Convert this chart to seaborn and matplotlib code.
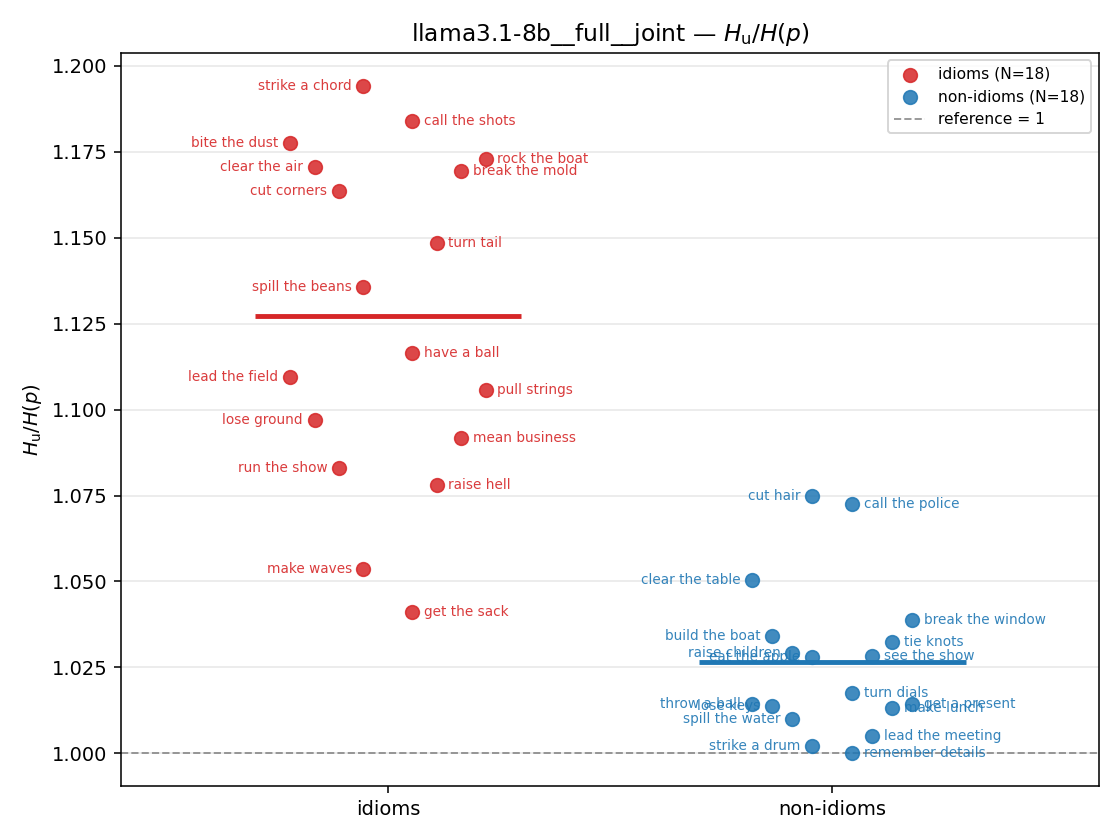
import numpy as np
import pandas as pd
import matplotlib
matplotlib.use("Agg")
import matplotlib.pyplot as plt
import seaborn as sns

# --- data ---
idiom_names = [
    "strike a chord", "call the shots", "bite the dust", "rock the boat",
    "clear the air", "break the mold", "cut corners", "turn tail",
    "spill the beans", "have a ball", "lead the field", "pull strings",
    "lose ground", "mean business", "run the show", "raise hell",
    "make waves", "get the sack",
]
idiom_vals = [
    1.1941, 1.1839, 1.1776, 1.1729, 1.1705, 1.1693, 1.1635, 1.1484,
    1.1355, 1.1165, 1.1095, 1.1057, 1.0970, 1.0917, 1.0830, 1.0780,
    1.0536, 1.0412,
]
nonidiom_names = [
    "cut hair", "call the police", "clear the table", "break the window",
    "build the boat", "tie knots", "raise children", "see the show",
    "eat the apple", "turn dials", "throw a ball", "get a present",
    "lose keys", "make lunch", "spill the water", "lead the meeting",
    "strike a drum", "remember details",
]
nonidiom_vals = [
    1.0749, 1.0725, 1.0504, 1.0388, 1.0341, 1.0323, 1.0292, 1.0284,
    1.0281, 1.0177, 1.0145, 1.0144, 1.0137, 1.0133, 1.0101, 1.0050,
    1.0022, 1.0000,
]
groups = ["idioms", "non-idioms"]
colors = {"idioms": "#d62728", "non-idioms": "#1f77b4"}
jitter_width = {"idioms": 0.22, "non-idioms": 0.18}
model_name = "llama3.1-8b__full__joint"

# deterministic jitter: alternate sides, cycling through 4 slots by rank
slot_cycle = [-1, 1, -4, 4, -3, 3, -2, 2]

frames = []
for gi, (g, names, vals) in enumerate(zip(groups, [idiom_names, nonidiom_names],
                                          [idiom_vals, nonidiom_vals])):
    df = pd.DataFrame({"term": names, "value": vals, "group": g})
    df = df.sort_values("value", ascending=False).reset_index(drop=True)
    slots = np.array([slot_cycle[i % len(slot_cycle)] for i in range(len(df))])
    df["x"] = gi + slots * jitter_width[g] / 4
    frames.append(df)
data = pd.concat(frames, ignore_index=True)

fig, ax = plt.subplots(figsize=(8, 6), dpi=140)

for gi, g in enumerate(groups):
    sub = data[data["group"] == g]
    c = colors[g]
    sns.scatterplot(data=sub, x="x", y="value", color=c, edgecolor=c,
                    linewidth=0.8, s=50, alpha=0.85, ax=ax, zorder=3,
                    label=f"{g} (N={len(sub)})")
    for _, r in sub.iterrows():
        right = r["x"] > gi
        ax.annotate(r["term"], (r["x"], r["value"]),
                    xytext=(6 if right else -6, 0), textcoords="offset points",
                    ha="left" if right else "right", va="center",
                    fontsize=7, color=c, alpha=0.9, zorder=4)
    ax.hlines(sub["value"].mean(), gi - 0.3, gi + 0.3, color=c, lw=2.5, zorder=2)

ax.axhline(1.0, ls="--", color="gray", lw=1, alpha=0.8, zorder=1,
           label="reference = 1")

ax.set_xlim(-0.6, 1.6)
ax.set_ylim(0.9904, 1.2038)
ax.set_xticks([0, 1])
ax.set_xticklabels(groups)
ax.set_xlabel("")
ax.set_ylabel(r"$H_\mathrm{u}/H(p)$")
ax.set_title(model_name + r" — $H_\mathrm{u}/H(p)$")
ax.yaxis.grid(True, alpha=0.3)
ax.xaxis.grid(False)
ax.set_axisbelow(True)
ax.legend(loc="upper right", fontsize=8)

plt.tight_layout()
plt.savefig("out.png", dpi=140)
